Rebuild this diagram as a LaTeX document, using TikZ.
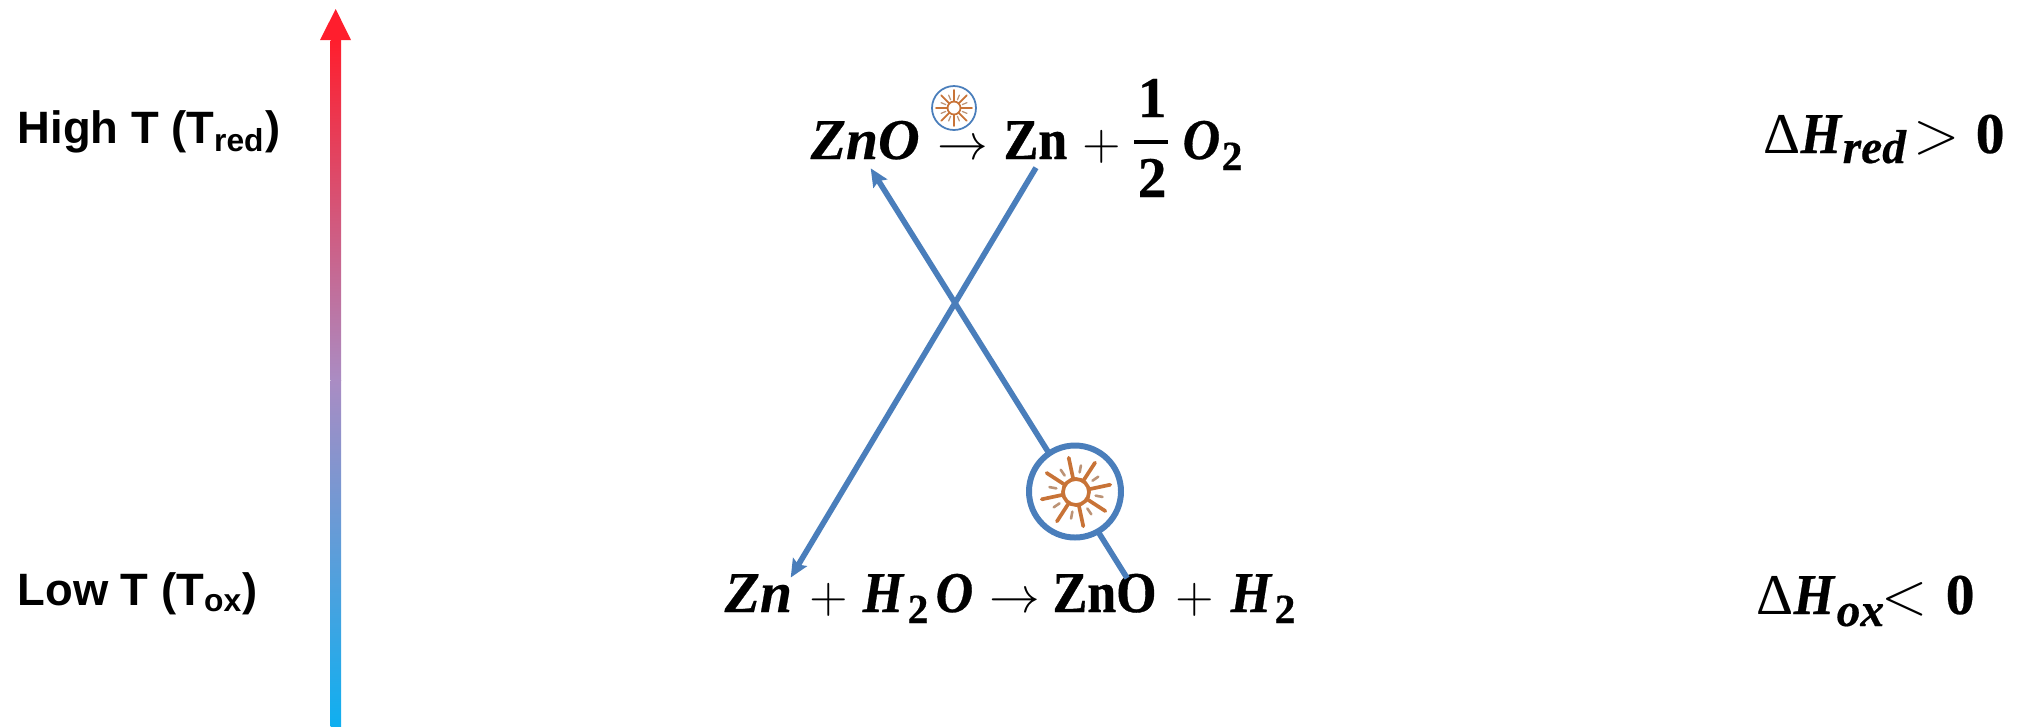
\documentclass[tikz,border=0pt]{standalone}
\usepackage{fontspec}
\setmainfont[BoldFeatures={FakeBold=0.4},BoldItalicFeatures={FakeBold=0.4}]{Liberation Serif}
\newfontfamily\labelfont{Liberation Sans}
\newfontfamily\narrowfont[FakeStretch=0.9,BoldFeatures={FakeBold=0.7},BoldItalicFeatures={FakeBold=0.5}]{Liberation Serif}
\usetikzlibrary{arrows.meta,calc}
\definecolor{linkblue}{RGB}{74,126,187}
\definecolor{sunorange}{RGB}{200,115,55}
\definecolor{hotred}{RGB}{255,30,45}
\definecolor{coldblue}{RGB}{15,175,240}
\definecolor{midmix}{RGB}{170,140,195}

\begin{document}
\begin{tikzpicture}[x=0.01cm,y=-0.01cm,
  chem/.style={anchor=base west,inner sep=0pt,font=\fontsize{16.4}{20}\selectfont\bfseries},
  chemn/.style={anchor=base west,inner sep=0pt,font=\narrowfont\fontsize{16.4}{20}\selectfont\bfseries},
  sym/.style={anchor=base west,inner sep=0pt,font=\fontsize{14.5}{18}\selectfont},
  dlt/.style={anchor=base west,inner sep=0pt,font=\fontsize{16.4}{20}\selectfont},
  sublbl/.style={anchor=base west,inner sep=0pt,font=\fontsize{11.8}{14}\selectfont\bfseries},
  subit/.style={anchor=base west,inner sep=0pt,font=\fontsize{13.5}{16}\selectfont\bfseries\itshape},
  templbl/.style={anchor=base west,inner sep=0pt,font=\labelfont\fontsize{12.9}{16}\selectfont\bfseries},
  link/.style={linkblue,line width=1.6pt,-{Stealth[length=18*0.01cm,width=16*0.01cm,inset=3*0.01cm]}},
  sunring/.style={circle,draw=linkblue,fill=white,inner sep=0pt}
]
\useasboundingbox (0,0) rectangle (2026,726);
% temperature axis
\shade[top color=hotred,bottom color=midmix] (330.5,40) rectangle (341,380);
\shade[top color=midmix,bottom color=coldblue] (330.5,380) rectangle (341,726);
\fill[hotred] (320,40) -- (335.7,9) -- (351,40) -- cycle;
\node[templbl] (high) at (17,143) {High T (T\textsubscript{red})};
\node[templbl] (low)  at (17,605) {Low T (T\textsubscript{ox})};
% top reaction
\node[chem] (znotop) at (810,159) {\textit{ZnO}};
\node[sym]  (arrtop) at (937,159) {$\rightarrow$};
\node[chemn] (zntop) at (1003,159) {Zn};
\node[sym]  (plustop) at (1082,159) {$+$};
\node[chem] (one) at (1137,117) {1};
\node[chem] (two) at (1137,197) {2};
\node[fill=black,inner sep=0pt,minimum width=34*0.01cm,minimum height=4*0.01cm] (bar) at (1151,142) {};
\node[chemn] (otop) at (1182,159) {\textit{O}};
\node[sublbl] (twotop) at (1221,170) {2};
% bottom reaction
\node[chem] (znbot)  at (724,612) {\textit{Zn}};
\node[sym]  (plusa)  at (809,612) {$+$};
\node[chemn] (hwbot) at (862,612) {\textit{H}};
\node[sublbl] (twoa) at (907,623) {2};
\node[chemn] (owbot) at (935,612) {\textit{O}};
\node[sym]  (arrbot) at (989,612) {$\rightarrow$};
\node[chemn] (znobot) at (1052,612) {ZnO};
\node[sym]  (plusb)  at (1175,612) {$+$};
\node[chemn] (hbot)  at (1230,612) {\textit{H}};
\node[sublbl] (twob) at (1274,623) {2};
% enthalpy labels
\node[dlt]   (dlta) at (1763,153) {Δ};
\node[chemn] (hred) at (1800,153) {\textit{H}};
\node[subit] (red)  at (1842,163) {red};
\node[dlt]   (gta)  at (1913,153) {$>$};
\node[chem]  (zeroa) at (1975,153) {0};
\node[dlt]   (dltb) at (1756,614) {Δ};
\node[chemn] (hox)  at (1793,614) {\textit{H}};
\node[subit] (ox)   at (1836,626) {ox};
\node[dlt]   (ltb)  at (1881,614) {$<$};
\node[chem]  (zerob) at (1945,614) {0};
% crossing links
\draw[link] ($(zntop.south)+(0.5,8)$) -- ($(znbot.north east)+(-2,4)$);
\draw[link] ($(znobot.north)+(22.5,5)$) -- ($(znotop.south)+(5.5,8)$);
% sun marks
\node[sunring,line width=1.7pt,minimum size=92*0.01cm] (sunbig) at (1075,491.5) {};
\node[sunring,line width=0.5pt,minimum size=44*0.01cm] (suntiny) at (954,108) {};
\foreach \cx/\cy/\rin/\rout/\tin/\tout/\ang/\lw in {1076/492/13/35/20/27/33/1.05, 954/108/6.5/18/9/14/0/0.5}{
  \draw[sunorange,line width=\lw pt] (\cx,\cy) circle[radius=\rin*0.01cm];
  \foreach \k in {0,...,7}{
    \draw[sunorange,line width=\lw pt,line cap=round] ($(\cx,\cy)+({\ang+45*\k}:\rin*0.01cm and -\rin*0.01cm)$) -- ($(\cx,\cy)+({\ang+45*\k}:\rout*0.01cm and -\rout*0.01cm)$);
    \draw[sunorange!60!gray!80,line width=0.7*\lw pt,line cap=round] ($(\cx,\cy)+({\ang+22.5+45*\k}:\tin*0.01cm and -\tin*0.01cm)$) -- ($(\cx,\cy)+({\ang+22.5+45*\k}:\tout*0.01cm and -\tout*0.01cm)$);
  }
}
\end{tikzpicture}
\end{document}
